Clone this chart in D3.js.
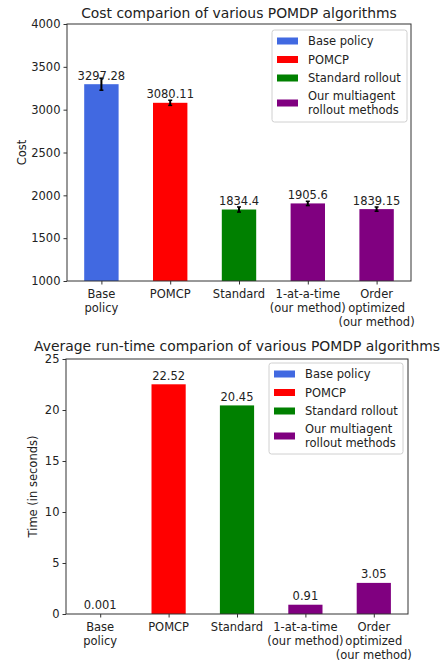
<!DOCTYPE html>
<html>
<head>
<meta charset="utf-8">
<script src="https://cdn.jsdelivr.net/npm/d3@7"></script>
<style>
  body { margin: 0; background: #fff; }
  svg { display: block; font-family: "DejaVu Sans", sans-serif; }
</style>
</head>
<body>
<svg id="chart" width="440" height="662"></svg>
<script>
const categories = ["Base\npolicy", "POMCP", "Standard", "1-at-a-time\n(our method)", "Order\noptimized\n(our method)"];
const barColors = ["#4169E1", "#FF0000", "#008000", "#800080", "#800080"];
const costValues = [3297.28, 3080.11, 1834.4, 1905.6, 1839.15];
const costErrors = [70, 30, 30, 25, 25];
const timeValues = [0.001, 22.52, 20.45, 0.91, 3.05];
const costTicks = [1000, 1500, 2000, 2500, 3000, 3500, 4000];
const timeTicks = [0, 5, 10, 15, 20, 25];
const legendLabels = ["Base policy", "POMCP", "Standard rollout", "Our multiagent\nrollout methods"];
const legendColors = ["#4169E1", "#FF0000", "#008000", "#800080"];

const svg = d3.select("#chart");
const FS = 11.5;

function drawPanel(cfg) {
  const g = svg.append("g");
  const x = d3.scaleLinear().domain([-0.5, 4.5]).range([cfg.left, cfg.right]);
  const y = d3.scaleLinear().domain(cfg.yDomain).range([cfg.bottom, cfg.top]);
  const bw = x(0.25) - x(-0.25);

  g.selectAll("rect.bar").data(cfg.values).enter().append("rect")
    .attr("class", "bar")
    .attr("x", (d, i) => x(i) - bw / 2)
    .attr("width", bw)
    .attr("y", d => y(Math.max(d, cfg.yDomain[0])))
    .attr("height", d => y(cfg.yDomain[0]) - y(Math.max(d, cfg.yDomain[0])))
    .attr("fill", (d, i) => barColors[i]);

  if (cfg.errors) {
    cfg.values.forEach((v, i) => {
      const e = cfg.errors[i];
      g.append("line").attr("x1", x(i)).attr("x2", x(i))
        .attr("y1", y(v - e)).attr("y2", y(v + e))
        .attr("stroke", "#000").attr("stroke-width", 2);
      [v - e, v + e].forEach(t => {
        g.append("line").attr("x1", x(i) - 2).attr("x2", x(i) + 2)
          .attr("y1", y(t)).attr("y2", y(t))
          .attr("stroke", "#000").attr("stroke-width", 1.5);
      });
    });
  }

  g.selectAll("text.val").data(cfg.values).enter().append("text")
    .attr("class", "val")
    .attr("x", (d, i) => x(i))
    .attr("y", d => y(d) - 4.5)
    .attr("text-anchor", "middle")
    .attr("font-size", FS)
    .attr("fill", "#222")
    .text(d => String(d));

  g.append("rect").attr("x", cfg.left).attr("y", cfg.top)
    .attr("width", cfg.right - cfg.left).attr("height", cfg.bottom - cfg.top)
    .attr("fill", "none").attr("stroke", "#333").attr("stroke-width", 1);

  const ya = g.append("g").attr("transform", `translate(${cfg.left},0)`)
    .call(d3.axisLeft(y).tickValues(cfg.ticks).tickSize(3.5).tickPadding(3).tickFormat(d3.format("d")));
  ya.select(".domain").remove();
  ya.selectAll("line").attr("stroke", "#333");
  ya.selectAll("text").attr("font-size", FS).attr("fill", "#222").attr("font-family", "DejaVu Sans");

  const xa = g.append("g").attr("transform", `translate(0,${cfg.bottom})`)
    .call(d3.axisBottom(x).tickValues(d3.range(categories.length)).tickSize(3.5).tickFormat(""));
  xa.select(".domain").remove();
  xa.selectAll("line").attr("stroke", "#333");
  categories.forEach((c, i) => {
    const t = g.append("text").attr("x", x(i)).attr("y", cfg.bottom + 16.5)
      .attr("text-anchor", "middle").attr("font-size", FS).attr("fill", "#222");
    c.split("\n").forEach((line, k) => {
      t.append("tspan").attr("x", x(i)).attr("dy", k === 0 ? 0 : 14.3).text(line);
    });
  });

  g.append("text")
    .attr("transform", `translate(${cfg.ylabelX},${(cfg.top + cfg.bottom) / 2}) rotate(-90)`)
    .attr("text-anchor", "middle").attr("font-size", FS).attr("fill", "#222")
    .text(cfg.ylabel);

  g.append("text").attr("x", (cfg.left + cfg.right) / 2).attr("y", cfg.top - cfg.titleGap)
    .attr("text-anchor", "middle").attr("font-size", 13.9).attr("fill", "#222")
    .text(cfg.title);

  const lg = g.append("g").attr("transform", `translate(${cfg.legX},${cfg.legY})`);
  lg.append("rect").attr("width", cfg.legW).attr("height", cfg.legH)
    .attr("rx", 2.5).attr("fill", "#fff").attr("fill-opacity", 0.8)
    .attr("stroke", "#d0d0d0").attr("stroke-width", 1);
  const rowY = [11, 29.5, 48, 73];
  legendLabels.forEach((lab, i) => {
    lg.append("rect").attr("x", 5).attr("y", rowY[i] - 3.5).attr("width", 21).attr("height", 7)
      .attr("fill", legendColors[i]);
    const lines = lab.split("\n");
    const t = lg.append("text").attr("x", 36).attr("font-size", FS).attr("fill", "#222");
    lines.forEach((line, k) => {
      t.append("tspan").attr("x", 36)
        .attr("y", rowY[i] + 4 + (k - (lines.length - 1) / 2) * 13.5)
        .text(line);
    });
  });
}

drawPanel({
  left: 67, right: 411, top: 24, bottom: 281,
  yDomain: [1000, 4000], ticks: costTicks,
  values: costValues, errors: costErrors,
  ylabel: "Cost", ylabelX: 26,
  title: "Cost comparion of various POMDP algorithms", titleGap: 6,
  legX: 272, legY: 30, legW: 135, legH: 92
});

drawPanel({
  left: 66, right: 408, top: 359, bottom: 614,
  yDomain: [0, 25], ticks: timeTicks,
  values: timeValues, errors: null,
  ylabel: "Time (in seconds)", ylabelX: 37,
  title: "Average run-time comparion of various POMDP algorithms", titleGap: 8.5,
  legX: 269, legY: 363, legW: 134, legH: 91
});
</script>
</body>
</html>
